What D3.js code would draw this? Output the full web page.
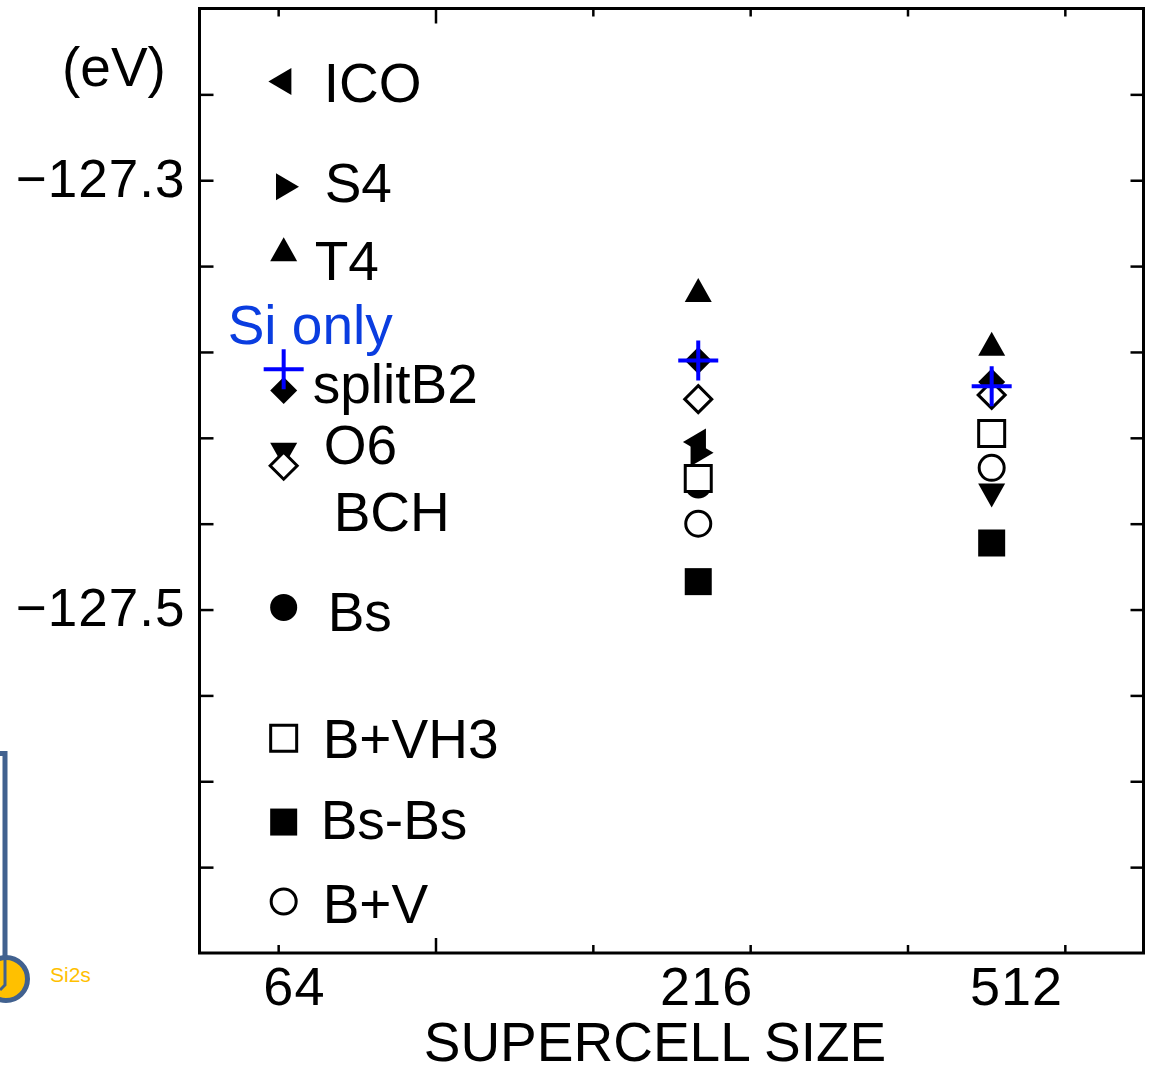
<!DOCTYPE html>
<html>
<head>
<meta charset="utf-8">
<script src="https://cdn.jsdelivr.net/npm/d3@7"></script>
<style>
  html, body { margin: 0; padding: 0; background: #fff; }
  svg { display: block; font-family: "Liberation Sans", Arial, Helvetica, sans-serif; }
</style>
</head>
<body>
<script>
// Total energy of boron configurations in silicon supercells (eV)
const configs = ["ICO", "S4", "T4", "Si only", "splitB2", "O6", "BCH", "Bs", "B+VH3", "Bs-Bs", "B+V"];
const shapes  = ["triLeft", "triRight", "triUp", "plus", "diamond", "triDown", "diamondOpen", "circle", "squareOpen", "square", "circleOpen"];

const cellSizes = ["64", "216", "512"];
// horizontal placement of each supercell column, in axis units
const cellMarkerPos = [1.07, 6.34, 10.07];
const cellLabelPos  = [1.2, 6.44, 10.38];

const energy64  = [-127.254, -127.303, -127.334, -127.388, -127.398, -127.426, -127.433, -127.499, -127.560, -127.599, -127.636];
const energy216 = [-127.422, -127.427, -127.353, -127.384, -127.384, null,     -127.402, -127.442, -127.439, -127.487, -127.460];
const energy512 = [null,     null,     -127.378, -127.396, -127.394, -127.445, -127.400, null,     -127.418, -127.469, -127.434];

const yTickValues = d3.range(10).map(i => +(-127.62 + i * 0.04).toFixed(2));
const yLabelled = [-127.3, -127.5];
const xTickValues = [1, 3, 5, 7, 9, 11];

const W = 1153, H = 1074;
const frame = { left: 199.5, right: 1143.5, top: 8.5, bottom: 953 };

const svg = d3.select("body").append("svg").attr("width", W).attr("height", H);

const x = d3.scaleLinear().domain([0, 12]).range([frame.left, frame.right]);
const y = d3.scaleLinear().domain([-127.66, -127.22]).range([frame.bottom, frame.top]);

// ---- side decoration at the lower left edge
const deco = svg.append("g");
deco.append("path")
  .attr("d", `M0,753.5 H5 V987`)
  .attr("fill", "none").attr("stroke", "#41618f").attr("stroke-width", 5);
deco.append("circle").attr("cx", 6).attr("cy", 979).attr("r", 21.5)
  .attr("fill", "#ffc000").attr("stroke", "#41618f").attr("stroke-width", 5);
deco.append("path").attr("d", "M5,960 V985 L0,990")
  .attr("fill", "none").attr("stroke", "#41618f").attr("stroke-width", 3);
deco.append("text").attr("x", 50).attr("y", 982)
  .attr("font-size", 21).attr("fill", "#ffc000").text("Si2s");

// ---- axes (ticks pointing inward)
const gLeft = svg.append("g").attr("transform", `translate(${frame.left},0)`)
  .call(d3.axisLeft(y).tickValues(yTickValues).tickSize(-14).tickPadding(14)
    .tickFormat(d => yLabelled.some(v => Math.abs(v - d) < 1e-6) ? d3.format(".1f")(d) : ""));
const gRight = svg.append("g").attr("transform", `translate(${frame.right},0)`)
  .call(d3.axisRight(y).tickValues(yTickValues).tickSize(-13).tickFormat(""));
const gTop = svg.append("g").attr("transform", `translate(0,${frame.top})`)
  .call(d3.axisTop(x).tickValues(xTickValues).tickSize(-8).tickFormat(""));
const gBottom = svg.append("g").attr("transform", `translate(0,${frame.bottom})`)
  .call(d3.axisBottom(x).tickValues(xTickValues).tickSize(-8).tickFormat(""));
const gBottomLabels = svg.append("g").attr("transform", `translate(0,${frame.bottom})`)
  .call(d3.axisBottom(x).tickValues(cellLabelPos).tickSize(0)
    .tickFormat((d, i) => cellSizes[i]));

gTop.selectAll(".tick line").attr("y2", d => d === 3 ? 15 : 8);
gBottom.selectAll(".tick line").attr("y2", d => d === 3 ? -15 : -8);

[gLeft, gRight, gTop, gBottom, gBottomLabels].forEach(g => {
  g.select(".domain").remove();
  g.selectAll(".tick line").attr("stroke", "#000").attr("stroke-width", 2.5);
});
gLeft.selectAll(".tick text")
  .attr("font-size", 53).attr("letter-spacing", 1).attr("fill", "#000")
  .attr("font-family", "Liberation Sans, Arial, sans-serif")
  .attr("dy", null).attr("y", 16);
gBottomLabels.selectAll(".tick text")
  .attr("font-size", 54).attr("letter-spacing", 1).attr("fill", "#000")
  .attr("font-family", "Liberation Sans, Arial, sans-serif")
  .attr("dy", null).attr("y", 1005 - frame.bottom);

// plot frame
svg.append("rect")
  .attr("x", frame.left).attr("y", frame.top)
  .attr("width", frame.right - frame.left).attr("height", frame.bottom - frame.top)
  .attr("fill", "none").attr("stroke", "#000").attr("stroke-width", 3);

// axis titles
svg.append("text").attr("x", 62).attr("y", 86)
  .attr("font-size", 55).attr("fill", "#000").text("(eV)");
svg.append("text").attr("x", 655).attr("y", 1061).attr("text-anchor", "middle")
  .attr("font-size", 55).attr("fill", "#000").text("SUPERCELL SIZE");

// ---- marker shapes
const R = 13.5;
const shapePath = {
  triUp:    () => `M0,${-16}L${R},8L${-R},8Z`,
  triDown:  () => `M0,16L${R},-8L${-R},-8Z`,
  triLeft:  () => `M${-15.3},0L7.7,${-R}L7.7,${R}Z`,
  triRight: () => `M15.3,0L-7.7,${-R}L-7.7,${R}Z`,
  diamond:  () => `M0,${-R}L${R},0L0,${R}L${-R},0Z`,
  diamondOpen: () => `M0,${-R}L${R},0L0,${R}L${-R},0Z`,
  square:   () => `M${-R},${-R}H${R}V${R}H${-R}Z`,
  squareOpen: () => `M-13,-13H13V13H-13Z`,
  circle:   () => d3.arc()({ innerRadius: 0, outerRadius: R, startAngle: 0, endAngle: 2 * Math.PI }),
  circleOpen: () => d3.arc()({ innerRadius: 0, outerRadius: 12.5, startAngle: 0, endAngle: 2 * Math.PI }),
  plus:     () => `M-20,0H20M0,-20V20`
};
const isOpen = s => s.endsWith("Open");

// one record per marker
const columns = [energy64, energy216, energy512];
const points = [];
configs.forEach((name, k) => {
  columns.forEach((col, c) => {
    if (col[k] != null) points.push({ name, shape: shapes[k], cell: c, e: col[k], order: name === "Si only" ? 99 : k });
  });
});
points.sort((a, b) => a.order - b.order);

svg.append("g").selectAll("path.mark")
  .data(points)
  .join("path")
  .attr("class", "mark")
  .attr("transform", d => `translate(${x(cellMarkerPos[d.cell])},${y(d.e)})`)
  .attr("d", d => shapePath[d.shape]())
  .attr("fill", d => d.shape === "plus" ? "none" : (isOpen(d.shape) ? "#fff" : "#000"))
  .attr("stroke", d => d.shape === "plus" ? "#0000ff" : (isOpen(d.shape) ? "#000" : "none"))
  .attr("stroke-width", d => d.shape === "plus" ? 4 : 3);

// ---- configuration names beside the 64-atom markers
const labelOffset = {
  "ICO": [40, 20.5], "S4": [41, 15.5], "T4": [31, 27], "Si only": [-56, -25],
  "splitB2": [29, 12], "O6": [40, 13], "BCH": [50, 65], "Bs": [44, 23.5],
  "B+VH3": [39, 19.5], "Bs-Bs": [37, 16.5], "B+V": [39, 21.5]
};
svg.append("g").selectAll("text")
  .data(configs.map((name, k) => ({ name, e: energy64[k] })))
  .join("text")
  .attr("x", d => x(cellMarkerPos[0]) + labelOffset[d.name][0])
  .attr("y", d => y(d.e) + labelOffset[d.name][1])
  .attr("font-size", 55)
  .attr("fill", d => d.name === "Si only" ? "#0a3de0" : "#000")
  .text(d => d.name);
</script>
</body>
</html>
